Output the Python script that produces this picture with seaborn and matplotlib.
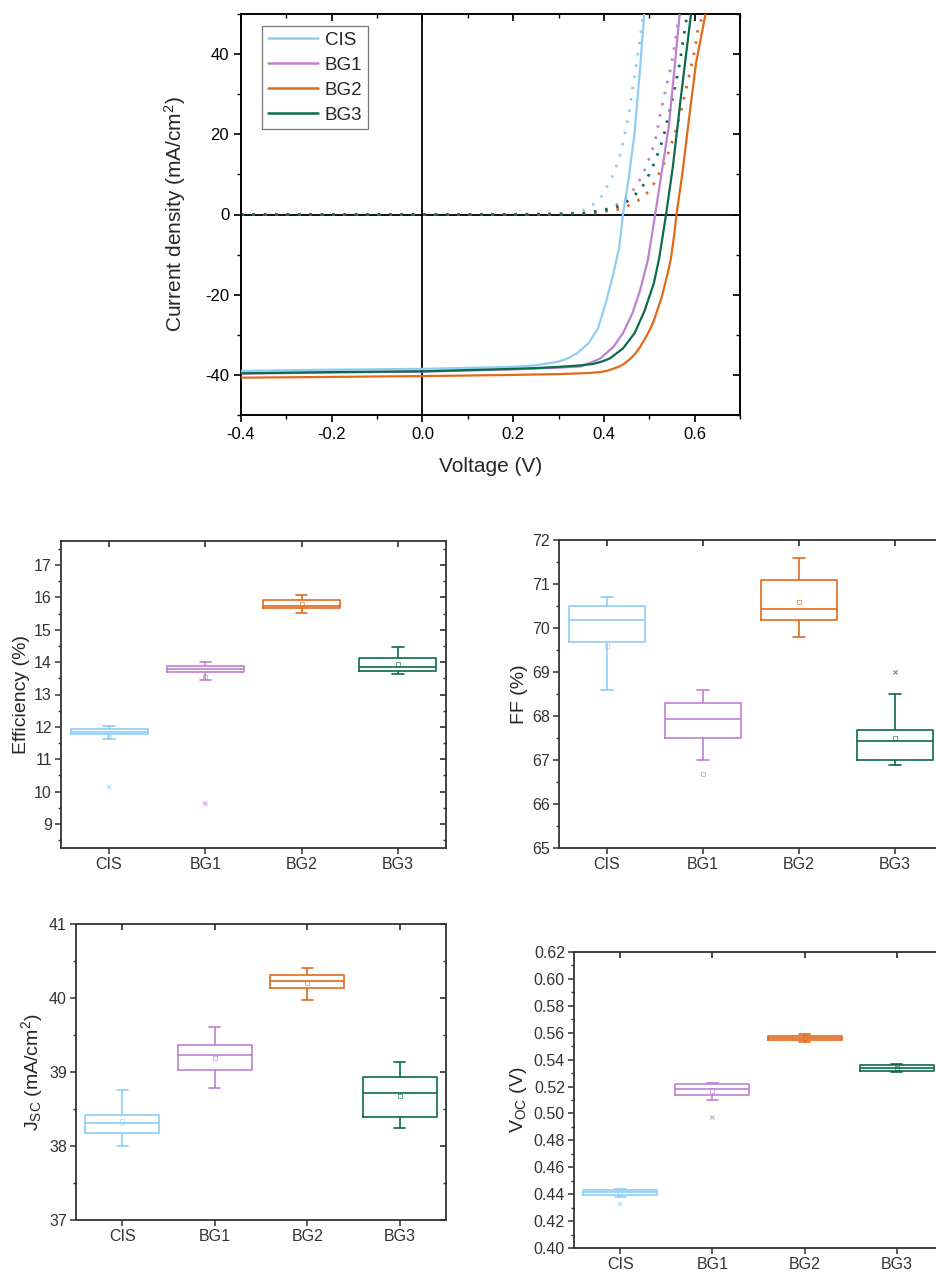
import numpy as np
import pandas as pd
import matplotlib
matplotlib.use("Agg")
import matplotlib.pyplot as plt
from matplotlib.ticker import FixedLocator
import seaborn as sns

# ---------------- data ----------------
cells = ["CIS", "BG1", "BG2", "BG3"]
colors = ["#8ECDF5", "#BE80D2", "#E0691A", "#0B6B4B"]

# illuminated J-V curves (solid)
cis_light_v = [-0.4, -0.2, 0.0, 0.2, 0.25, 0.299, 0.32, 0.341, 0.366, 0.387, 0.404, 0.421, 0.434, 0.442, 0.455, 0.4675, 0.480, 0.489]
cis_light_j = [-39.0, -38.7, -38.5, -38.0, -37.6, -36.7, -35.9, -34.6, -32.1, -28.4, -22.1, -14.7, -8.0, 0.0, 9.4, 20.2, 36.9, 50.0]
bg1_light_v = [-0.4, -0.2, 0.0, 0.2, 0.25, 0.3, 0.349, 0.37, 0.392, 0.405, 0.421, 0.442, 0.463, 0.480, 0.497, 0.513, 0.527, 0.543, 0.556, 0.567]
bg1_light_j = [-39.7, -39.4, -39.2, -38.6, -38.4, -38.2, -37.9, -37.0, -35.9, -34.6, -33.0, -29.6, -24.6, -18.8, -11.3, 0.0, 10.3, 21.9, 36.9, 50.0]
bg2_light_v = [-0.4, -0.2, 0.0, 0.2, 0.3, 0.35, 0.37, 0.392, 0.41, 0.434, 0.445, 0.459, 0.47, 0.480, 0.49, 0.501, 0.51, 0.518, 0.527, 0.535, 0.542, 0.548, 0.555, 0.560, 0.573, 0.590, 0.603, 0.624]
bg2_light_j = [-40.7, -40.5, -40.3, -40.0, -39.8, -39.6, -39.5, -39.3, -38.9, -37.9, -37.2, -35.9, -34.6, -33.0, -31.1, -28.8, -26.5, -23.8, -20.8, -17.2, -14.0, -10.8, -5.0, 0.0, 10.3, 26.1, 37.7, 50.0]
bg3_light_v = [-0.4, -0.2, 0.0, 0.2, 0.25, 0.3, 0.34, 0.375, 0.395, 0.413, 0.442, 0.4675, 0.489, 0.510, 0.522, 0.537, 0.552, 0.569, 0.592]
bg3_light_j = [-39.6, -39.3, -39.1, -38.5, -38.3, -38.0, -37.7, -37.3, -36.7, -35.9, -33.4, -29.6, -24.2, -17.2, -10.8, 0.0, 11.9, 28.6, 50.0]

# dark J-V curves (dotted)
cis_dark_v = [-0.4, -0.2, 0.0, 0.2, 0.28, 0.3106, 0.3363, 0.3606, 0.3812, 0.3974, 0.4098, 0.4223, 0.4377, 0.4488, 0.4576, 0.4649, 0.4723, 0.4797, 0.487]
cis_dark_j = [0.0, 0.0, 0.0, 0.05, 0.15, 0.3, 0.45, 1.3, 2.9, 4.9, 7.6, 10.3, 15.7, 21.5, 26.9, 32.7, 38.1, 43.9, 50.0]
bg1_dark_v = [-0.4, -0.2, 0.0, 0.2, 0.3, 0.35, 0.3877, 0.4098, 0.4355, 0.4576, 0.4723, 0.4834, 0.4929, 0.5017, 0.5105, 0.5164, 0.5252, 0.537, 0.548, 0.5568, 0.5641, 0.567]
bg1_dark_j = [0.0, 0.0, 0.0, 0.02, 0.1, 0.3, 0.9, 1.5, 2.8, 4.9, 7.4, 9.4, 11.9, 14.6, 17.3, 20.2, 25.6, 31.5, 36.9, 42.7, 48.5, 50.0]
bg2_dark_v = [-0.4, -0.2, 0.0, 0.2, 0.3, 0.38, 0.4355, 0.4613, 0.4811, 0.5002, 0.5142, 0.5252, 0.537, 0.5531, 0.5678, 0.5789, 0.5899, 0.6009, 0.6082, 0.6192]
bg2_dark_j = [0.0, 0.0, 0.0, 0.02, 0.08, 0.4, 1.3, 2.6, 3.9, 5.9, 8.4, 11.1, 13.8, 19.0, 24.6, 30.2, 35.6, 41.4, 46.8, 49.75]
bg3_dark_v = [-0.4, -0.2, 0.0, 0.2, 0.3, 0.36, 0.4098, 0.4355, 0.4561, 0.476, 0.4907, 0.5127, 0.5297, 0.542, 0.5531, 0.5678, 0.5751, 0.5803, 0.583]
bg3_dark_j = [0.0, 0.0, 0.0, 0.02, 0.08, 0.3, 1.3, 2.1, 3.6, 5.7, 7.9, 13.2, 18.6, 24.4, 29.8, 38.1, 43.9, 47.3, 50.0]

# box statistics: [CIS, BG1, BG2, BG3]
eff_lo = [11.64, 13.46, 15.52, 13.64]
eff_q1 = [11.77, 13.68, 15.66, 13.74]
eff_med = [11.85, 13.78, 15.73, 13.85]
eff_q3 = [11.95, 13.88, 15.91, 14.13]
eff_hi = [12.04, 14.00, 16.07, 14.47]
eff_mean = [11.72, 13.54, 15.79, 13.94]
eff_out_cell = ["CIS", "BG1"]
eff_out_val = [10.13, 9.63]

ff_lo = [68.59, 66.99, 69.79, 66.89]
ff_q1 = [69.69, 67.49, 70.19, 66.99]
ff_med = [70.19, 67.94, 70.44, 67.44]
ff_q3 = [70.49, 68.29, 71.10, 67.69]
ff_hi = [70.71, 68.60, 71.60, 68.49]
ff_mean = [69.60, 66.68, 70.59, 67.50]
ff_out_cell = ["BG3"]
ff_out_val = [68.99]

jsc_lo = [38.00, 38.79, 39.97, 38.25]
jsc_q1 = [38.17, 39.03, 40.14, 38.39]
jsc_med = [38.31, 39.23, 40.23, 38.71]
jsc_q3 = [38.42, 39.37, 40.31, 38.93]
jsc_hi = [38.76, 39.61, 40.41, 39.14]
jsc_mean = [38.33, 39.19, 40.20, 38.68]
jsc_out_cell = []
jsc_out_val = []

voc_lo = [0.4376, 0.5099, 0.5529, 0.5307]
voc_q1 = [0.4396, 0.5138, 0.5549, 0.5319]
voc_med = [0.4413, 0.5185, 0.5564, 0.5339]
voc_q3 = [0.4428, 0.5218, 0.5579, 0.5359]
voc_hi = [0.4440, 0.5230, 0.5594, 0.5371]
voc_mean = [0.4405, 0.5170, 0.5564, 0.5339]
voc_out_cell = ["CIS", "BG1"]
voc_out_val = [0.4327, 0.4970]

# ---------------- style ----------------
sns.set_theme(style="ticks")
plt.rcParams["font.family"] = ["Liberation Sans", "DejaVu Sans"]
plt.rcParams["mathtext.default"] = "regular"
palette = dict(zip(cells, colors))

W, H = 936, 1272
fig = plt.figure(figsize=(W / 100, H / 100), dpi=100)


def frac(left, top, right, bottom):
    return [left / W, 1 - bottom / H, (right - left) / W, (bottom - top) / H]


def mirror_ticks(ax, xmajor, xminor, ymajor, yminor, lsize, color):
    ax.tick_params(which="both", direction="out", top=False, right=False, colors=color)
    sx = ax.secondary_xaxis("top")
    sx.xaxis.set_major_locator(FixedLocator(xmajor))
    if xminor is not None:
        sx.xaxis.set_minor_locator(FixedLocator(xminor))
    sx.tick_params(which="both", direction="in", labeltop=False, colors=color)
    sx.tick_params(which="major", length=lsize[0])
    sx.tick_params(which="minor", length=lsize[1])
    sx.spines["top"].set_visible(False)
    sy = ax.secondary_yaxis("right")
    sy.yaxis.set_major_locator(FixedLocator(ymajor))
    if yminor is not None:
        sy.yaxis.set_minor_locator(FixedLocator(yminor))
    sy.tick_params(which="both", direction="in", labelright=False, colors=color)
    sy.tick_params(which="major", length=lsize[0])
    sy.tick_params(which="minor", length=lsize[1])
    sy.spines["right"].set_visible(False)


# ---------------- J-V panel ----------------
light_rows = []
dark_rows = []
for c, v, j in zip(cells, [cis_light_v, bg1_light_v, bg2_light_v, bg3_light_v],
                   [cis_light_j, bg1_light_j, bg2_light_j, bg3_light_j]):
    light_rows += [(c, a, b) for a, b in zip(v, j)]
for c, v, j in zip(cells, [cis_dark_v, bg1_dark_v, bg2_dark_v, bg3_dark_v],
                   [cis_dark_j, bg1_dark_j, bg2_dark_j, bg3_dark_j]):
    dark_rows += [(c, a, b) for a, b in zip(v, j)]
light_df = pd.DataFrame(light_rows, columns=["cell", "V", "J"])
dark_df = pd.DataFrame(dark_rows, columns=["cell", "V", "J"])

ax = fig.add_axes(frac(241, 14, 740, 415))
ax.axhline(0, color="black", lw=1.3, zorder=1)
ax.axvline(0, color="black", lw=1.3, zorder=1)
for c in cells:
    sub = dark_df[dark_df.cell == c]
    sns.lineplot(x=sub.V.to_numpy(), y=sub.J.to_numpy(), color=palette[c], lw=2.0,
                 estimator=None, sort=False, ax=ax, legend=False, zorder=2)
    ax.lines[-1].set_dashes((0.9, 3.2))
sns.lineplot(data=light_df, x="V", y="J", hue="cell", hue_order=cells, palette=palette,
             lw=1.6, estimator=None, sort=False, ax=ax, zorder=3)
handles, labels = ax.get_legend_handles_labels()
leg = ax.legend(handles, labels, loc="upper left", bbox_to_anchor=(21 / 499, 1 - 12 / 401),
                borderaxespad=0, frameon=True, fancybox=False, edgecolor="#555555",
                fontsize=13.5, handlelength=2.7, handletextpad=0.35, labelspacing=0.42,
                borderpad=0.3)
leg.get_frame().set_linewidth(0.9)
for lh in leg.get_lines():
    lh.set_linewidth(1.8)
ax.set_xlim(-0.4, 0.7)
ax.set_ylim(-50, 50)
ax.xaxis.set_major_locator(FixedLocator([-0.4, -0.2, 0.0, 0.2, 0.4, 0.6]))
ax.xaxis.set_minor_locator(FixedLocator([-0.3, -0.1, 0.1, 0.3, 0.5, 0.7]))
ax.yaxis.set_major_locator(FixedLocator([-40, -20, 0, 20, 40]))
ax.yaxis.set_minor_locator(FixedLocator([-50, -30, -10, 10, 30, 50]))
ax.set_xticklabels(["-0.4", "-0.2", "0.0", "0.2", "0.4", "0.6"])
ax.set_yticklabels(["-40", "-20", "0", "20", "40"])
ax.tick_params(labelsize=12, width=1.2)
ax.tick_params(which="major", length=5)
ax.tick_params(which="minor", length=3, width=1.0)
mirror_ticks(ax, [-0.4, -0.2, 0.0, 0.2, 0.4, 0.6], [-0.3, -0.1, 0.1, 0.3, 0.5, 0.7],
             [-40, -20, 0, 20, 40], [-50, -30, -10, 10, 30, 50], (5, 3), "black")
for s in ax.spines.values():
    s.set_linewidth(1.4)
    s.set_color("black")
ax.set_xlabel("Voltage (V)", fontsize=15, labelpad=11)
ax.set_ylabel("Current density (mA/cm$^2$)", fontsize=15, labelpad=12)


# ---------------- box panels ----------------
def box_panel(rect, lo, q1, med, q3, hi, means, out_cell, out_val, ylim, ymajor, yminor,
              ylabel, fmt):
    a = fig.add_axes(rect)
    rows = []
    for i, c in enumerate(cells):
        for val in (lo[i], q1[i], med[i], q3[i], hi[i]):
            rows.append((c, val))
    df = pd.DataFrame(rows, columns=["cell", "value"])
    sns.boxplot(data=df, x="cell", y="value", hue="cell", order=cells, hue_order=cells,
                palette=palette, fill=False, whis=(0, 100), width=0.8, linewidth=1.2,
                showfliers=False, legend=False, ax=a, capwidths=0.12)
    pos = {c: i for i, c in enumerate(cells)}
    a.scatter(list(range(4)), means, marker="s", s=9, facecolors="none",
              edgecolors=colors, linewidths=0.7, alpha=0.6, zorder=5)
    if out_cell:
        a.scatter([pos[c] for c in out_cell], out_val, marker="x", s=9,
                  c=[palette[c] for c in out_cell], linewidths=0.8, alpha=0.7, zorder=5)
    a.set_xlim(-0.5, 3.5)
    a.set_ylim(*ylim)
    a.yaxis.set_major_locator(FixedLocator(ymajor))
    a.yaxis.set_minor_locator(FixedLocator(yminor))
    a.set_yticklabels([fmt.format(v) for v in ymajor])
    a.set_xticks(range(4))
    a.set_xticklabels(cells)
    a.tick_params(labelsize=11.5, width=1.1, pad=2.5)
    a.tick_params(which="major", length=4)
    a.tick_params(which="minor", length=2.5, width=1.0)
    mirror_ticks(a, list(range(4)), None, ymajor, yminor, (4, 2.5), "#333333")
    for s in a.spines.values():
        s.set_linewidth(1.3)
        s.set_color("#333333")
    a.set_xlabel("")
    a.set_ylabel(ylabel, fontsize=14, labelpad=3)
    return a


eff_major = list(range(9, 18))
eff_minor = [x + 0.5 for x in range(8, 18)]
box_panel(frac(61, 541, 446, 848), eff_lo, eff_q1, eff_med, eff_q3, eff_hi, eff_mean,
          eff_out_cell, eff_out_val, (8.26, 17.74), eff_major, eff_minor,
          "Efficiency (%)", "{:.0f}")

ff_major = list(range(65, 73))
ff_minor = [x + 0.5 for x in range(65, 72)]
box_panel(frac(559, 540, 943, 848), ff_lo, ff_q1, ff_med, ff_q3, ff_hi, ff_mean,
          ff_out_cell, ff_out_val, (65, 72), ff_major, ff_minor, "FF (%)", "{:.0f}")

jsc_major = list(range(37, 42))
jsc_minor = [x + 0.5 for x in range(37, 41)]
box_panel(frac(76, 924, 446, 1220), jsc_lo, jsc_q1, jsc_med, jsc_q3, jsc_hi, jsc_mean,
          jsc_out_cell, jsc_out_val, (37, 41), jsc_major, jsc_minor,
          "J$_{SC}$ (mA/cm$^2$)", "{:.0f}")

voc_major = [round(0.40 + 0.02 * k, 2) for k in range(12)]
voc_minor = [round(0.41 + 0.02 * k, 2) for k in range(11)]
box_panel(frac(574, 952, 943, 1248), voc_lo, voc_q1, voc_med, voc_q3, voc_hi, voc_mean,
          voc_out_cell, voc_out_val, (0.40, 0.62), voc_major, voc_minor,
          "V$_{OC}$ (V)", "{:.2f}")

fig.savefig("out.png", dpi=100)
